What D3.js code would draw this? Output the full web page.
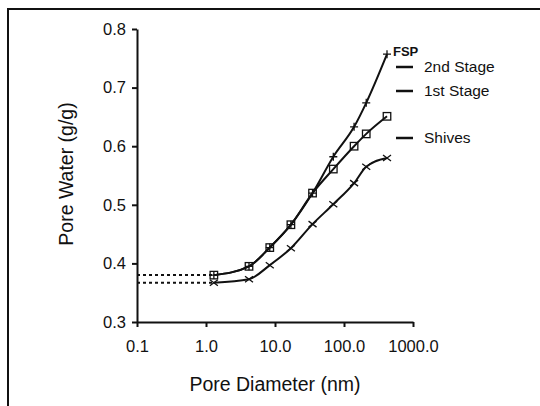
<!DOCTYPE html>
<html lang="en">
<head>
    <meta charset="UTF-8">
    <title>Pore Water vs Pore Diameter</title>
    <script src="https://cdn.jsdelivr.net/npm/d3@7"></script>
    <style>
        body { margin: 0; background: #fff; }
        svg { display: block; font-family: 'Liberation Sans', Arial, sans-serif; }
        .axis path, .axis line { stroke: #111; stroke-width: 2; }
        .axis text { font-size: 16.5px; fill: #111; font-family: 'Liberation Sans', Arial, sans-serif; }
    </style>
</head>
<body>
<script>
    // data
    const diameters = [1.3, 4.2, 8.4, 17, 35, 70, 140, 210, 420];
    const fsp = [0.380, 0.395, 0.427, 0.466, 0.520, 0.582, 0.633, 0.674, 0.757];
    const stage = [0.380, 0.395, 0.427, 0.466, 0.520, 0.561, 0.600, 0.621, 0.651];
    const shives = [0.367, 0.373, 0.397, 0.426, 0.467, 0.501, 0.537, 0.565, 0.580];
    const xTicks = [0.1, 1, 10, 100, 1000];
    const xTickLabels = ["0.1", "1.0", "10.0", "100.0", "1000.0"];
    const yTicks = [0.3, 0.4, 0.5, 0.6, 0.7, 0.8];
    const legendLabels = ["2nd Stage", "1st Stage", "Shives"];

    var width = 540, height = 406;
    var svg = d3.select('body').append('svg')
        .attr('width', width)
        .attr('height', height);

    // frame (top and left only visible)
    svg.append('path')
        .attr('d', 'M8,406 L8,9 L540,9')
        .attr('fill', 'none')
        .attr('stroke', '#111')
        .attr('stroke-width', 2);

    var x = d3.scaleLog().domain([0.1, 1000]).range([137, 413]);
    var y = d3.scaleLinear().domain([0.3, 0.8]).range([322, 29]);

    svg.append('g')
        .attr('class', 'axis')
        .attr('transform', 'translate(0,' + y(0.3) + ')')
        .call(d3.axisBottom(x).tickValues(xTicks)
            .tickFormat((d, i) => xTickLabels[i]).tickSize(5).tickSizeOuter(0).tickPadding(13));

    svg.append('g')
        .attr('class', 'axis')
        .attr('transform', 'translate(' + x(0.1) + ',0)')
        .call(d3.axisLeft(y).tickValues(yTicks)
            .tickFormat(d3.format('.1f')).tickSize(5).tickSizeOuter(0).tickPadding(6));

    // axis titles
    svg.append('text')
        .attr('x', 275).attr('y', 391)
        .attr('text-anchor', 'middle')
        .style('font-size', '19.5px').attr('fill', '#111')
        .text('Pore Diameter (nm)');
    svg.append('text')
        .attr('transform', 'translate(73,174) rotate(-90)')
        .attr('text-anchor', 'middle')
        .style('font-size', '19.5px').attr('fill', '#111')
        .text('Pore Water (g/g)');

    // dotted extensions back to the axis
    [stage[0], shives[0]].forEach(function (v) {
        svg.append('line')
            .attr('x1', x(0.1)).attr('x2', x(diameters[0]))
            .attr('y1', y(v)).attr('y2', y(v))
            .attr('stroke', '#111').attr('stroke-width', 2)
            .attr('stroke-dasharray', '3,3');
    });

    var line = d3.line()
        .x(d => x(d[0]))
        .y(d => y(d[1]))
        .curve(d3.curveMonotoneX);

    function pts(vals) { return diameters.map((d, i) => [d, vals[i]]); }

    [fsp, stage, shives].forEach(function (vals) {
        svg.append('path')
            .datum(pts(vals))
            .attr('d', line)
            .attr('fill', 'none')
            .attr('stroke', '#111')
            .attr('stroke-width', 2);
    });

    // markers
    svg.append('g').selectAll('path')
        .data(pts(fsp))
        .join('path')
        .attr('d', d => {
            var cx = x(d[0]), cy = y(d[1]);
            return 'M' + (cx - 4) + ',' + cy + 'H' + (cx + 4) + 'M' + cx + ',' + (cy - 4) + 'V' + (cy + 4);
        })
        .attr('stroke', '#111').attr('stroke-width', 1.3);

    svg.append('g').selectAll('rect')
        .data(pts(stage))
        .join('rect')
        .attr('x', d => x(d[0]) - 3.75)
        .attr('y', d => y(d[1]) - 3.75)
        .attr('width', 7.5).attr('height', 7.5)
        .attr('fill', 'none')
        .attr('stroke', '#111').attr('stroke-width', 1.3);

    svg.append('g').selectAll('path')
        .data(pts(shives))
        .join('path')
        .attr('d', d => {
            var cx = x(d[0]), cy = y(d[1]);
            return 'M' + (cx - 4) + ',' + (cy - 3) + 'L' + (cx + 4) + ',' + (cy + 3) +
                'M' + (cx - 4) + ',' + (cy + 3) + 'L' + (cx + 4) + ',' + (cy - 3);
        })
        .attr('stroke', '#111').attr('stroke-width', 1.3);

    // legend
    svg.append('text')
        .attr('x', 393).attr('y', 56)
        .style('font-size', '13px').style('font-weight', 'bold').attr('fill', '#111')
        .text('FSP');

    var legendY = [67, 91, 138];
    var lg = svg.append('g').selectAll('g')
        .data(legendLabels)
        .join('g')
        .attr('transform', (d, i) => 'translate(0,' + legendY[i] + ')');
    lg.append('line')
        .attr('x1', 396).attr('x2', 413)
        .attr('stroke', '#111').attr('stroke-width', 2.5);
    lg.append('text')
        .attr('x', 424).attr('dy', '0.35em')
        .style('font-size', '15.5px').attr('fill', '#111')
        .text(d => d);
</script>
</body>
</html>
